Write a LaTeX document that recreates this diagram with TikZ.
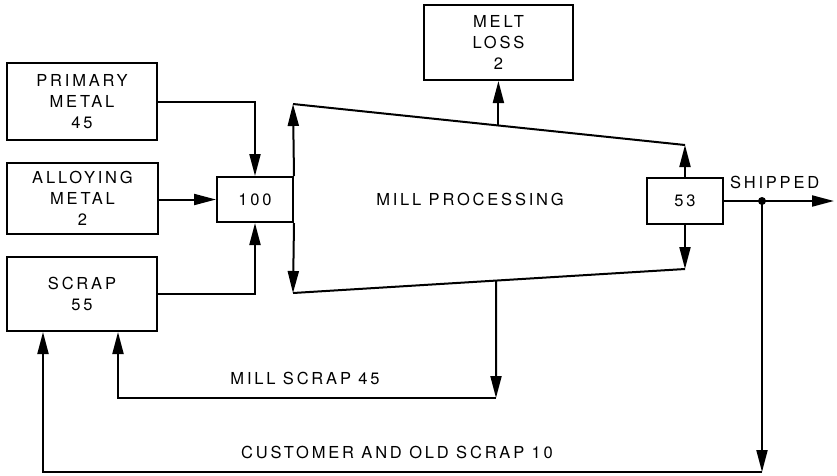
\documentclass[tikz,border=0pt]{standalone}
\usepackage{fontspec}
\usepackage{tikz}
\usetikzlibrary{arrows.meta,calc}
\newfontfamily\flowfont[LetterSpace=17]{TeX Gyre Heros}

\begin{document}
\begin{tikzpicture}[
            x=1pt, y=-1pt,
            line width=2pt,
            box/.style={draw, inner sep=0pt, align=center, font=\flowfont\fontsize{16.5}{21}\selectfont},
            txt/.style={inner sep=0pt, font=\flowfont\fontsize{16.5}{18}\selectfont},
            flow/.style={-{Triangle[length=22pt,width=11pt]}}
        ]
        \useasboundingbox (0,0) rectangle (837,475);

        % --- Input boxes ---
        \node[box, minimum width=150pt, minimum height=77pt] (prim) at (82,101.5) {PRIMARY\\METAL\\45};
        \node[box, minimum width=151pt, minimum height=71pt] (alloy) at (82.5,198.5) {ALLOYING\\METAL\\2};
        \node[box, minimum width=150pt, minimum height=74pt] (scrap) at (82,294) {SCRAP\\55};
        \node[box, minimum width=76pt, minimum height=45pt] (hundred) at (255,199.5) {100};

        % --- Mill ---
        \coordinate (tl) at (293,104);
        \coordinate (bl) at (293,293);
        \coordinate (tr) at (685,145);
        \coordinate (br) at (685,269);
        \draw (tl) -- (tr);
        \draw (bl) -- (br);
        \node[txt] (mill) at (470,199) {MILL PROCESSING};

        % --- Output boxes ---
        \node[box, minimum width=149pt, minimum height=75pt] (melt) at (498.5,42.5) {MELT\\LOSS\\2};
        \node[box, minimum width=76pt, minimum height=46pt] (ftt) at (685,201) {53};

        % --- Feeds into 100 ---
        \draw[flow] (prim.east) -| (hundred.north);
        \draw[flow] (alloy.east |- hundred.west) -- (hundred.west);
        \draw[flow] (scrap.east) -| (hundred.south);
        \draw[flow] (hundred.north east) -- (tl);
        \draw[flow] (hundred.south east) -- (bl);

        % --- Out of the mill ---
        \coordinate (mtap) at ($(tl)!0.524!(tr)$);
        \draw[flow] (mtap) -- (mtap |- melt.south);
        \draw[flow] (ftt.north) -- (tr);
        \draw[flow] (ftt.south) -- (br);

        % --- Shipped ---
        \coordinate (dot) at (762,201);
        \coordinate (shipend) at (834,201);
        \draw[flow] (ftt.east) -- (shipend);
        \fill (dot) circle (4pt);
        \node[txt, anchor=south west] (ship) at (729,190) {SHIPPED};

        % --- Mill scrap return ---
        \coordinate (mstap) at ($(bl)!0.518!(br)$);
        \coordinate (msc) at (496,398);
        \coordinate (msl) at (118,398);
        \draw[flow] (mstap) -- (msc);
        \draw[flow] (msc) -- (msl) -- (msl |- scrap.south);
        \node[txt] (mslabel) at (305,378) {MILL SCRAP 45};

        % --- Customer and old scrap return ---
        \coordinate (csc) at (762,472);
        \coordinate (csl) at (43,472);
        \draw[flow] (dot) -- (csc);
        \draw[flow] (csc) -- (csl) -- (csl |- scrap.south);
        \node[txt] (cslabel) at (397,452) {CUSTOMER AND OLD SCRAP 10};
        \end{tikzpicture}
\end{document}
